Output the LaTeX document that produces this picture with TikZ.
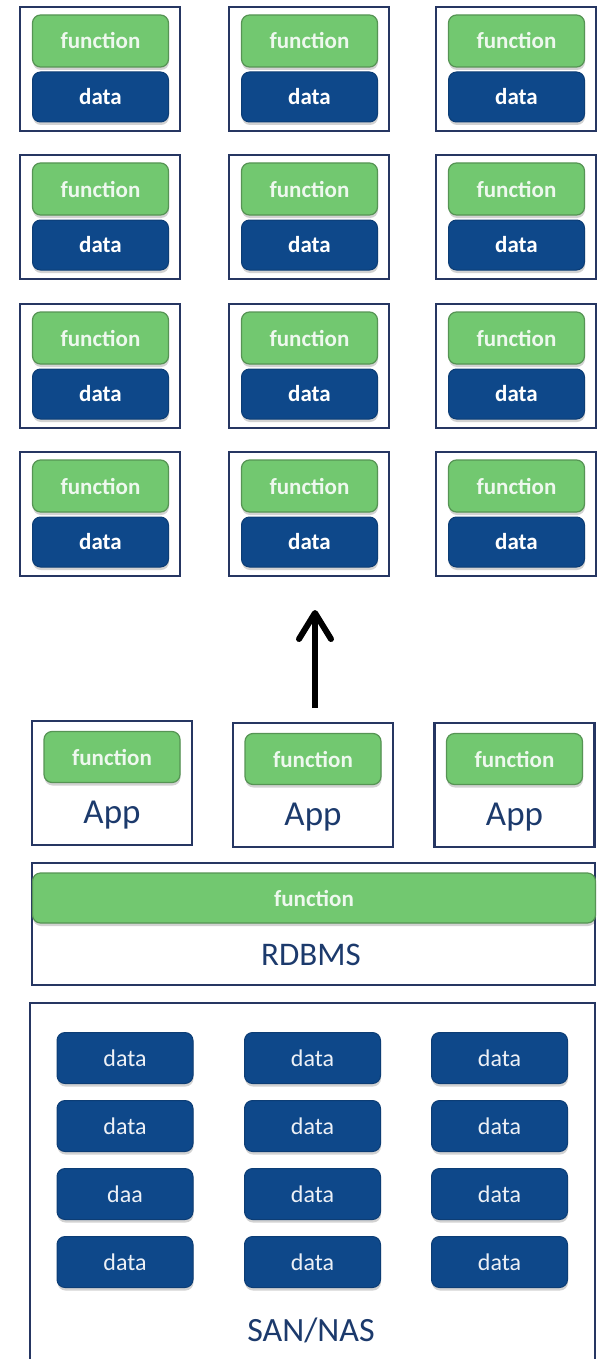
\documentclass[tikz,border=0pt]{standalone}
\usepackage{fontspec}
\setmainfont{Carlito}
\usetikzlibrary{arrows.meta, shadows}

\definecolor{fnGreen}{RGB}{114,200,112}
\definecolor{fnEdge}{RGB}{86,148,84}
\definecolor{dtBlue}{RGB}{14,72,138}
\definecolor{frameBlue}{RGB}{38,54,98}
\definecolor{labelBlue}{RGB}{28,58,108}

\tikzset{
  frame/.style={draw=frameBlue, line width=2.5pt, minimum width=160pt, minimum height=124pt, inner sep=0pt},
  softshadow/.style={drop shadow={shadow xshift=0.5pt, shadow yshift=-3pt, opacity=0.25, fill=black!70}},
  fnbox/.style={draw=fnEdge, line width=1.2pt, fill=fnGreen, rounded corners=8pt, softshadow,
    minimum width=136pt, minimum height=52pt, inner sep=0pt,
    text=white!88!fnGreen, font=\fontsize{23}{26}\selectfont\bfseries},
  dtbox/.style={draw=dtBlue!85!black, line width=1pt, fill=dtBlue, rounded corners=8pt, softshadow,
    minimum width=136pt, minimum height=50pt, inner sep=0pt,
    text=white, font=\fontsize{23}{26}\selectfont\bfseries},
  sandata/.style={dtbox, minimum height=51pt, text=white!92!dtBlue, font=\fontsize{24}{28}\selectfont},
  lbl/.style={text=labelBlue, inner sep=0pt},
}

\begin{document}
\begin{tikzpicture}[x=1pt, y=-1pt]
  \useasboundingbox (0,0) rectangle (602,1359);
  % scaled-out cells, each one with its function and its data
  \foreach \r/\ty in {1/7, 2/155, 3/304, 4/452} {
    \foreach \c/\cx in {1/100, 2/309, 3/516} {
      \node[frame] (cell\r\c) at (\cx, \ty+62) {};
      \node[fnbox] (fn\r\c) at (\cx+0.5, \ty+34) {function};
      \node[dtbox] (dt\r\c) at (\cx+0.5, \ty+90) {data};
    }
  }
  % arrow
  \coordinate (arrTail) at (315,708);
  \coordinate (arrTip) at (315,610);
  \draw[line width=6pt, -{Straight Barb[length=26pt,width=32pt,round]}] (arrTail) -- (arrTip);
  % apps
  \foreach \c/\cx/\ty in {1/112/721, 2/313/723, 3/514.5/723} {
    \node[frame] (app\c) at (\cx, \ty+62) {};
    \node[fnbox, minimum height=51pt] (appfn\c) at (\cx, \ty+36) {function};
    \node[lbl, font=\fontsize{35}{40}\selectfont] (applbl\c) at (\cx, \ty+94) {App};
  }
  % database
  \node[frame, minimum width=563pt, minimum height=122pt] (rdbms) at (313.5,924) {};
  \node[fnbox, minimum width=563pt, minimum height=50pt] (dbfn) at (314,898) {function};
  \node[lbl, font=\fontsize{33}{38}\selectfont] (dblbl) at (311,955) {RDBMS};
  % storage
  \draw[frameBlue, line width=2.5pt] (30,1362) |- (595,1003) -- (595,1362);
  \foreach \r/\cy/\first in {1/1058/data, 2/1126/data, 3/1194/daa, 4/1262/data} {
    \node[sandata] (san\r1) at (125,\cy) {\first};
    \node[sandata] (san\r2) at (312.5,\cy) {data};
    \node[sandata] (san\r3) at (499.5,\cy) {data};
  }
  \node[lbl, font=\fontsize{34}{40}\selectfont] (sanlbl) at (311,1330) {SAN/NAS};
\end{tikzpicture}
\end{document}
